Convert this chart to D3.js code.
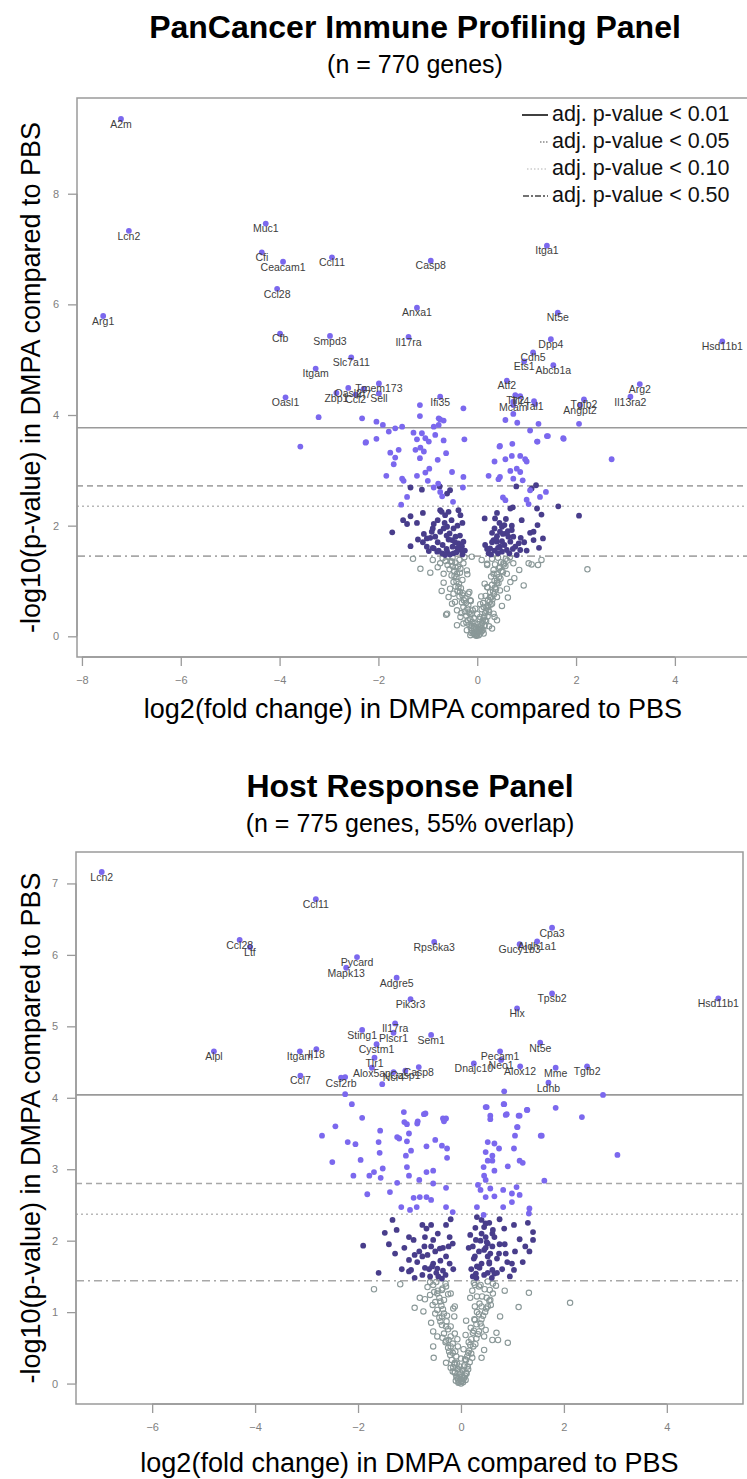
<!DOCTYPE html>
<html>
<head>
<meta charset="utf-8">
<script src="https://cdn.jsdelivr.net/npm/d3@7"></script>
<style>
  body { margin: 0; background: #fff; }
  svg { display: block; font-family: "Liberation Sans", Arial, sans-serif; }
</style>
</head>
<body>
<svg id="chart" width="747" height="1479"></svg>
<script>
// ---------- top panel (PanCancer Immune Profiling) ----------
const topXTicks = [-8, -6, -4, -2, 0, 2, 4];
const topYTicks = [0, 2, 4, 6, 8];
const topCutoffs = [3.77, 2.72, 2.35, 1.45]; // adj p 0.01, 0.05, 0.10, 0.50

// labelled genes: [name, log2FC, -log10 p]
const topGenes = [
  ["A2m", -7.21, 9.35], ["Lcn2", -7.05, 7.33], ["Arg1", -7.57, 5.79],
  ["Muc1", -4.28, 7.46], ["Cfi", -4.36, 6.94], ["Ceacam1", -3.93, 6.77],
  ["Ccl11", -2.94, 6.85], ["Ccl28", -4.05, 6.28], ["Cfb", -3.99, 5.47],
  ["Smpd3", -2.98, 5.43], ["Slc7a11", -2.55, 5.04], ["Itgam", -3.27, 4.84],
  ["Oasl1", -3.88, 4.32], ["Tmem173", -1.99, 4.57], ["Zbp1", -2.85, 4.40],
  ["Oasl2", -2.61, 4.49], ["Irf7", -2.30, 4.47], ["Ccl2", -2.46, 4.37],
  ["Sell", -1.99, 4.39], ["Anxa1", -1.22, 5.94], ["Casp8", -0.94, 6.79],
  ["Il17ra", -1.39, 5.41], ["Ifi35", -0.75, 4.33], ["Itga1", 1.41, 7.06],
  ["Nt5e", 1.63, 5.85], ["Dpp4", 1.49, 5.37], ["Cdh5", 1.13, 5.13],
  ["Ets1", 0.95, 4.97], ["Abcb1a", 1.54, 4.90], ["Atf2", 0.60, 4.62],
  ["Tlr2", 0.77, 4.36], ["Tlr4", 0.87, 4.34], ["Mcam", 0.73, 4.24],
  ["Tal1", 1.15, 4.25], ["Tgfb2", 2.16, 4.28], ["Angpt2", 2.08, 4.18],
  ["Arg2", 3.29, 4.56], ["Il13ra2", 3.10, 4.33], ["Hsd11b1", 4.96, 5.33]
];

const topSig = [
  [-3.21,3.96],[-2.33,3.94],[-2.04,3.88],[-1.91,3.82],[-1.79,3.70],[-1.66,3.76],[-1.52,3.79],
  [-1.16,4.18],[-1.16,3.98],[-0.88,3.79],[-0.75,3.92],[-0.68,3.90],[-0.78,3.82],[-0.28,4.12],
  [0.57,3.91],[0.81,3.86],[1.07,3.72],[1.24,3.84],[0.73,4.02],[1.17,4.20],[-3.58,3.43],
  [-2.26,3.50],[-2.04,3.57],[-1.29,3.68],[-1.22,3.56],[-1.12,3.67],[-1.05,3.58],[-0.98,3.52],
  [-0.85,3.64],[-0.68,3.54],[-0.26,3.56],[-1.76,3.32],[-1.59,3.37],[-1.66,3.23],[-1.69,3.11],
  [-1.25,3.37],[-1.15,3.41],[-1.08,3.34],[-1.16,3.22],[-0.80,3.19],[-0.63,3.31],[0.46,3.44],
  [0.71,3.48],[1.22,3.52],[1.41,3.62],[0.35,3.16],[0.57,3.20],[0.70,3.26],[0.87,3.26],
  [0.97,3.20],[1.00,3.16],[0.43,2.84],[0.46,2.88],[0.67,2.99],[0.80,3.03],[0.87,2.97],
  [0.92,2.82],[0.73,2.85],[0.23,2.90],[-1.84,2.90],[-1.52,2.85],[-1.49,2.81],[-1.22,2.90],
  [-1.05,2.96],[-0.97,3.03],[-1.00,2.81],[-0.88,2.69],[-0.79,2.76],[-0.75,2.61],[-0.51,2.97],
  [-0.28,2.88],[-1.42,2.52],[-1.54,2.38],[-0.71,2.53],[-0.49,2.43],[-0.29,2.69],[0.52,2.51],
  [0.57,2.46],[1.00,2.47],[1.04,2.39],[1.07,2.64],[1.39,2.61],[1.27,2.52],[2.72,3.20],
  [1.75,3.57],[1.43,3.62],[2.06,3.84],[-0.78,3.94],[1.74,3.58],[0.45,3.43],[0.73,4.18],
  [1.21,3.52],[-2.25,3.51]
];

const topMid = [
  [-1.35,2.69],[-1.12,2.65],[-0.76,2.71],[-0.55,2.64],[-0.61,2.58],[0.79,2.71],[1.19,2.73],
  [1.10,2.67],[0.72,2.33],[0.67,2.31],[1.21,2.31],[1.64,2.35],[-1.35,2.17],[-1.22,2.05],
  [-1.42,2.03],[-1.10,2.23],[-0.75,2.28],[-0.88,2.03],[-0.38,2.28],[-0.34,2.19],[0.15,2.13],
  [0.40,2.23],[0.36,2.13],[-1.72,1.88],[-1.35,1.63],[-1.08,1.85],[-1.02,1.77],[-0.92,1.89],
  [-0.85,1.80],[-0.75,1.89],[-0.68,1.95],[-0.61,1.98],[-0.56,1.86],[-0.51,1.74],[-0.44,1.80],
  [-0.38,1.68],[-0.31,1.63],[-0.28,1.71],[-1.02,1.62],[-0.88,1.59],[-0.81,1.53],[-0.71,1.50],
  [-0.61,1.53],[-0.48,1.50],[-0.98,1.54],[0.16,1.65],[0.33,1.74],[0.40,1.81],[0.46,1.89],
  [0.50,1.98],[0.55,2.01],[0.59,1.86],[0.63,1.80],[0.67,1.71],[0.73,1.80],[0.46,1.62],
  [0.50,1.53],[0.60,1.56],[0.77,1.62],[0.84,1.68],[0.87,1.56],[0.80,1.47],[1.07,1.87],
  [1.14,1.89],[1.22,2.01],[1.33,1.77],[1.14,1.74],[0.40,1.71],[0.30,1.87],[0.23,1.50],
  [0.26,1.59],[-0.65,2.19],[-0.58,2.25],[2.06,2.18],[-0.55,1.48],[-0.42,1.52],[-0.33,1.56],
  [-0.62,1.58],[-0.50,1.62],[-0.25,1.55],[-0.70,1.65],[-0.45,1.70],[-0.58,1.75],[-0.80,1.70],
  [-0.35,1.82],[-0.90,1.95],[-0.66,2.05],[-0.52,2.10],[-1.20,1.75],[0.28,1.48],[0.35,1.55],
  [0.42,1.60],[0.55,1.65],[0.38,1.75],[0.50,1.72],[0.62,1.90],[0.70,2.00],[0.45,2.05],
  [0.95,1.70],[1.00,1.55],[0.90,2.10],[0.30,1.70],[0.58,2.12],[-0.72,2.25],
  [-0.90,1.60],[-0.78,1.55],[-0.65,1.47],[-0.40,1.60],[-0.30,1.48],[-1.10,1.70],[-0.95,1.78],
  [-0.62,1.82],[-0.48,1.95],[-0.40,2.00],[-0.80,2.10],[0.35,1.95],[0.42,1.50],[0.65,1.50],
  [0.72,1.58],[0.88,1.78],[0.52,1.85],[0.70,1.92],[1.25,1.60],[0.20,1.58],[-1.50,2.10],
  [1.30,2.20],[-0.30,2.05]
];

const topNs = [
  [-1.15,1.22],[-0.75,1.32],[-0.68,1.13],[-0.68,0.97],[-0.51,1.35],[-0.44,1.25],[-0.41,1.13],
  [-0.34,1.22],[-0.28,1.32],[-0.21,1.19],[-0.11,1.44],[0.09,1.38],[0.20,1.29],[0.33,1.13],
  [0.40,1.01],[0.46,1.25],[0.53,1.32],[0.60,1.13],[0.67,0.98],[0.73,1.32],[1.04,1.32],
  [1.23,1.29],[0.94,0.92],[0.60,0.86],[0.46,0.83],[0.40,0.71],[0.30,0.59],[0.23,0.47],
  [0.16,0.29],[0.09,0.14],[-0.01,0.02],[-0.07,0.05],[-0.21,0.11],[-0.28,0.23],[-0.34,0.35],
  [-0.41,0.47],[-0.51,0.59],[-0.58,0.71],[-0.55,0.86],[-0.48,0.77],[-0.61,0.41],[-0.41,0.20],
  [-0.18,0.77],[-0.14,0.65],[-0.11,0.41],[-0.04,0.23],[0.06,0.35],[0.13,0.53],[0.20,0.89],
  [0.26,0.71],[0.33,0.41],[0.40,0.29],[0.30,0.14],[0.03,0.11],[-0.14,0.02],[2.23,1.21],
  [-0.63,0.39],[-0.02,0.01],[0.03,0.02],[-0.05,0.03],[0.06,0.05],[-0.08,0.06],[0.01,0.07],
  [0.09,0.09],[-0.11,0.10],[-0.03,0.11],[0.04,0.13],[0.12,0.12],[-0.13,0.15],[0.07,0.16],
  [-0.06,0.18],[0.15,0.19],[-0.16,0.21],[0.02,0.22],[0.10,0.24],[-0.10,0.26],[0.18,0.27],
  [-0.19,0.29],[0.05,0.31],[-0.07,0.33],[0.13,0.34],[0.21,0.36],[-0.22,0.37],[-0.14,0.40],
  [0.16,0.42],[0.24,0.44],[-0.25,0.45],[-0.09,0.47],[0.09,0.49],[0.19,0.52],[-0.28,0.53],
  [-0.18,0.56],[0.27,0.57],[0.12,0.60],[-0.31,0.61],[-0.13,0.64],[0.22,0.66],[0.31,0.67],
  [-0.24,0.69],[-0.36,0.72],[0.17,0.73],[0.34,0.76],[-0.29,0.78],[0.26,0.80],[-0.40,0.82],
  [0.38,0.85],[-0.33,0.87],[0.21,0.88],[-0.44,0.90],[0.30,0.93],[-0.37,0.95],[0.43,0.96],
  [-0.48,0.98],[0.35,1.00],[-0.30,1.02],[0.47,1.04],[-0.42,1.07],[0.28,1.08],[-0.52,1.10],
  [0.40,1.12],[-0.35,1.15],[0.52,1.16],[-0.47,1.18],[0.33,1.20],[-0.56,1.21],[0.44,1.23],
  [-0.39,1.26],[0.57,1.27],[-0.60,1.29],[0.36,1.30],[-0.44,1.33],[0.48,1.34],[-0.64,1.36],
  [0.61,1.37],[-0.36,1.38],[0.30,1.40],[-0.50,1.42],[0.66,1.43],[-0.70,1.41],[0.42,1.42],
  [-0.26,1.43],[0.20,1.31],[-0.20,1.12],[0.15,0.95],[-0.16,0.80],[0.08,0.72],[0.00,0.40],
  [-0.04,0.50],[0.06,0.58],
  [0.00,0.04],[-0.04,0.08],[0.05,0.10],[-0.07,0.14],[0.08,0.20],[-0.11,0.19],[0.11,0.28],
  [-0.14,0.31],[0.14,0.36],[-0.17,0.43],[0.18,0.46],[-0.20,0.50],[0.22,0.55],[-0.23,0.60],
  [0.25,0.62],[-0.27,0.65],[0.28,0.70],[-0.30,0.74],[0.32,0.81],[-0.35,0.80],[0.36,0.88],
  [-0.38,0.89],[0.40,0.97],[-0.42,0.99],[0.44,1.07],[-0.46,1.09],[0.49,1.18],[-0.50,1.27],
  [0.54,1.30],[-0.54,1.35],[0.58,1.40],[-0.60,1.44],[-0.80,1.25],[0.85,1.20],[-0.90,1.38],
  [0.75,1.05],[-0.72,0.82],[0.62,0.70],[-0.45,0.62],[0.50,0.55],[-0.32,0.42],[0.35,0.35],
  [-0.22,0.25],[0.24,0.18],[-0.12,0.06],[0.13,0.05],[-0.95,1.15],[1.10,1.30],[-1.30,1.40],
  [1.30,1.38]
];

// ---------- bottom panel (Host Response) ----------
const botXTicks = [-6, -4, -2, 0, 2, 4];
const botYTicks = [0, 1, 2, 3, 4, 5, 6, 7];
const botCutoffs = [4.04, 2.80, 2.37, 1.44];

const botGenes = [
  ["Lcn2", -6.98, 7.16], ["Ccl11", -2.82, 6.78], ["Ccl28", -4.30, 6.21],
  ["Ltf", -4.10, 6.11], ["Pycard", -2.02, 5.97], ["Mapk13", -2.23, 5.82],
  ["Adgre5", -1.25, 5.68], ["Pik3r3", -0.98, 5.38], ["Rps6ka3", -0.52, 6.18],
  ["Gucy1b3", 1.14, 6.15], ["Aldh1a1", 1.48, 6.19], ["Cpa3", 1.77, 6.38],
  ["Tpsb2", 1.77, 5.46], ["Hlx", 1.09, 5.25], ["Hsd11b1", 5.00, 5.39],
  ["Il17ra", -1.28, 5.04], ["Sting1", -1.92, 4.95], ["Plscr1", -1.31, 4.91],
  ["Sem1", -0.58, 4.88], ["Cystm1", -1.64, 4.75], ["Tlr1", -1.68, 4.56],
  ["Alpl", -4.80, 4.65], ["Itgam", -3.13, 4.65], ["Il18", -2.81, 4.68],
  ["Ccl7", -3.12, 4.31], ["Csf2rb", -2.33, 4.28], ["Alox5ap", -1.73, 4.42],
  ["Casp8", -0.82, 4.43], ["Casp1", -1.08, 4.38], ["Ncf4", -1.31, 4.36],
  ["Nt5e", 1.54, 4.77], ["Pecam1", 0.76, 4.65], ["Neo1", 0.78, 4.53],
  ["Dnajc10", 0.25, 4.48], ["Alox12", 1.15, 4.44], ["Mme", 1.84, 4.42],
  ["Tgfb2", 2.45, 4.44], ["Ldhb", 1.70, 4.21]
];

const botSig = [
  [-2.25,4.29],[-2.25,4.05],[-1.53,4.19],[0.84,4.09],[2.76,4.04],[-2.12,3.91],[-1.92,3.72],
  [-2.44,3.60],[-2.70,3.47],[-2.20,3.38],[-2.05,3.35],[-1.57,3.54],[-1.60,3.38],[-1.24,3.45],
  [-1.11,3.80],[-0.69,3.78],[0.50,3.87],[0.57,3.75],[0.83,3.91],[0.87,3.76],[1.12,3.75],
  [1.28,3.83],[1.84,3.86],[2.35,3.73],[1.09,3.59],[1.05,3.47],[1.55,3.47],[-0.35,3.71],
  [-0.85,3.64],[-1.05,3.63],[-2.50,3.10],[-1.95,3.13],[-2.09,2.91],[-1.78,2.91],[-1.69,2.96],
  [-1.52,3.01],[-1.56,2.88],[-1.82,2.65],[-1.38,2.68],[-1.24,2.81],[-1.58,3.23],[-1.10,3.66],
  [-1.01,3.50],[-1.05,3.39],[-1.20,3.43],[-0.97,3.26],[-1.07,3.19],[-1.05,3.03],[-1.01,2.91],
  [-0.84,3.67],[-0.72,3.77],[-0.67,3.32],[-0.50,3.41],[-0.37,3.33],[-0.29,3.71],[-0.33,3.67],
  [-0.27,3.29],[-0.27,3.16],[-0.67,2.96],[-0.54,2.98],[-0.81,2.85],[-0.54,2.80],[-0.29,2.74],
  [-0.92,2.60],[-0.80,2.61],[-0.67,2.61],[-0.58,2.57],[-1.16,2.47],[-0.99,2.43],[-0.86,2.47],
  [-0.29,2.47],[-0.16,2.40],[0.48,3.87],[0.57,3.70],[0.84,3.91],[0.89,3.77],[1.14,3.75],
  [1.29,3.83],[1.10,3.59],[1.57,3.47],[0.52,3.38],[0.65,3.36],[0.48,3.24],[0.61,3.19],
  [0.74,3.29],[0.52,3.12],[0.61,3.12],[1.03,3.29],[1.14,3.12],[1.20,3.09],[0.91,3.04],
  [0.44,3.03],[0.45,2.91],[0.48,2.85],[0.65,2.98],[3.04,3.20],[1.62,2.84],[0.33,2.78],
  [0.38,2.71],[0.57,2.73],[0.65,2.62],[0.82,2.71],[0.99,2.66],[1.14,2.64],[1.08,2.75],
  [0.99,2.54],[0.31,2.47],[0.44,2.36],[0.82,2.47],[1.33,2.45],[1.32,2.38],[0.48,2.61]
];

const botMid = [
  [-1.90,1.93],[-1.48,2.11],[-1.33,2.29],[-1.25,2.15],[-1.28,1.82],[-1.01,2.05],[-0.92,2.01],
  [-1.01,1.73],[-1.01,1.57],[-0.97,1.59],[-0.81,1.85],[-0.75,1.78],[-0.71,1.92],[-0.75,2.22],
  [-0.67,2.17],[-0.58,2.22],[-0.54,2.01],[-0.58,1.92],[-0.50,1.85],[-0.41,1.89],[-0.54,1.68],
  [-0.56,1.64],[-0.46,1.61],[-0.44,1.50],[-0.37,1.47],[-0.29,2.22],[-0.22,2.05],[-0.24,1.92],
  [-0.29,1.78],[-0.22,1.68],[-0.16,1.96],[0.18,2.08],[0.23,1.92],[0.29,2.01],[0.27,1.78],
  [0.31,1.64],[0.29,1.54],[0.23,1.50],[0.40,2.29],[0.45,2.19],[0.40,2.10],[0.48,2.05],
  [0.52,1.96],[0.45,1.87],[0.52,1.78],[0.40,1.68],[0.61,2.10],[0.65,2.05],[0.61,1.92],
  [0.57,1.82],[0.55,1.68],[0.65,1.54],[0.61,1.59],[0.74,1.82],[0.84,2.17],[0.87,1.82],
  [0.99,1.68],[1.03,1.59],[1.03,2.22],[1.14,2.02],[1.25,1.92],[1.33,1.85],[1.40,2.01],
  [1.40,2.12],[0.48,2.24],[0.31,2.33],[-0.60,1.50],[-0.48,1.55],[-0.70,1.62],[-0.35,1.58],
  [-0.85,1.70],[-0.65,1.80],[-0.40,1.72],[-1.10,1.90],[0.30,1.48],[0.45,1.52],[0.36,1.62],
  [0.55,1.70],[0.70,1.75],[0.48,1.90],[0.85,1.95],[0.62,2.15],[1.20,1.70],[0.80,1.60],
  [-0.90,1.48],[-0.75,1.52],[-0.62,1.60],[-0.30,1.52],[-0.35,1.90],[-0.45,2.10],[-0.70,2.05],
  [-0.90,1.80],[-1.15,1.60],[0.20,1.60],[0.25,1.75],[0.35,1.85],[0.52,1.55],[0.60,1.48],
  [0.70,1.55],[0.75,1.95],[0.90,1.70],[1.05,1.85],[0.38,2.00],[0.55,2.25],[0.28,2.18],
  [0.75,2.30],[-1.40,1.95],[-0.15,1.60],[0.15,1.90],[1.30,2.25],[-0.20,2.30],[0.95,1.50],
  [-1.60,1.55],[0.50,1.98]
];

const botNs = [
  [-1.69,1.32],[-1.18,1.39],[-0.90,1.06],[-0.73,1.01],[-0.70,1.18],[-0.54,1.38],[-0.46,1.26],
  [-0.37,1.31],[-0.29,1.36],[-0.33,1.17],[-0.20,1.26],[-0.58,0.85],[-0.54,0.73],[-0.46,0.66],
  [-0.54,0.52],[-0.53,0.36],[-0.37,0.94],[-0.29,0.80],[-0.24,0.61],[-0.20,0.52],[-0.16,0.43],
  [-0.12,1.08],[-0.13,0.94],[-0.12,0.29],[-0.07,0.20],[-0.03,0.10],[0.01,0.03],[0.06,0.24],
  [0.10,0.33],[0.14,0.43],[0.18,0.54],[0.23,0.71],[0.27,0.89],[0.27,1.08],[0.31,1.22],
  [0.27,1.38],[0.35,1.36],[0.40,0.80],[0.45,0.66],[0.48,0.75],[0.45,0.47],[0.40,0.36],
  [0.52,1.08],[0.57,1.17],[0.61,0.61],[0.69,0.71],[0.72,0.61],[0.91,0.57],[0.76,0.94],
  [1.12,1.07],[1.32,1.27],[2.12,1.13],[-0.29,0.29],[-0.20,0.22],[-0.12,0.15],[-0.07,0.08],
  [-0.01,0.06],[0.06,0.08],[0.10,0.15],[-0.03,0.24],[-0.16,0.17],[-0.03,0.02],[0.02,0.04],
  [-0.06,0.06],[0.05,0.07],[-0.09,0.10],[0.08,0.11],[-0.02,0.13],[0.11,0.14],[-0.12,0.16],
  [0.03,0.18],[-0.05,0.20],[0.14,0.20],[-0.15,0.23],[0.07,0.26],[-0.08,0.28],[0.17,0.30],
  [-0.18,0.33],[0.00,0.35],[0.12,0.38],[-0.21,0.40],[0.20,0.42],[-0.11,0.45],[0.05,0.48],
  [-0.25,0.50],[0.24,0.52],[-0.16,0.56],[0.15,0.58],[-0.29,0.60],[0.30,0.63],[-0.20,0.66],
  [0.09,0.68],[-0.33,0.70],[0.35,0.73],[-0.25,0.76],[0.19,0.78],[-0.37,0.82],[0.38,0.84],
  [-0.28,0.87],[0.26,0.90],[-0.42,0.92],[0.43,0.95],[-0.33,0.98],[0.31,1.00],[-0.46,1.03],
  [0.49,1.05],[-0.38,1.09],[0.36,1.12],[-0.50,1.14],[0.55,1.16],[-0.42,1.20],[0.41,1.22],
  [-0.60,1.24],[0.62,1.26],[-0.45,1.30],[0.46,1.32],[-0.65,1.35],[0.68,1.37],[-0.30,1.40],
  [0.25,1.41],[-0.48,1.42],[0.52,1.43],[0.18,1.20],[-0.15,1.05],[0.10,0.88],[-0.07,0.62],
  [0.00,0.00],[0.04,0.02],[-0.05,0.01],[0.09,0.05],[-0.10,0.04],[0.02,0.09],[-0.02,0.16],
  [0.13,0.24],[-0.13,0.27],[0.08,0.34],[-0.09,0.38],[0.22,0.36],[-0.23,0.45],[0.16,0.46],
  [-0.06,0.52],[0.28,0.55],[-0.30,0.58],[0.20,0.62],[-0.12,0.70],[0.33,0.69],[-0.36,0.64],
  [0.25,0.74],[-0.20,0.80],[0.30,0.83],[-0.40,0.87],[0.40,0.90],[-0.27,0.95],[0.35,0.97],
  [-0.50,0.98],[0.47,1.00],[-0.35,1.04],[0.40,1.08],[-0.55,1.10],[0.58,1.10],[-0.40,1.15],
  [0.50,1.20],[-0.52,1.28],[0.56,1.31],[-0.36,1.33],[0.38,1.38],[-0.60,1.42],[0.62,1.40],
  [-0.25,1.25],[0.22,1.30],[-0.80,1.20],[0.85,1.30]
];

const legendLabels = ["adj. p-value < 0.01", "adj. p-value < 0.05", "adj. p-value < 0.10", "adj. p-value < 0.50"];

// ---------- drawing ----------
const svg = d3.select("#chart");
const lightPurple = "#7b68ee", darkPurple = "#483d8b", nsGrey = "#8a9898";
const cutStyles = [
  { dash: null, color: "#9a9a9a" },
  { dash: "6,4", color: "#a8a8a8" },
  { dash: "2,3", color: "#b8b8b8" },
  { dash: "8,4,2,4", color: "#a8a8a8" }
];

function drawPanel(p) {
  const x = d3.scaleLinear().domain(p.xDomain).range([p.left, p.right]);
  const y = d3.scaleLinear().domain(p.yDomain).range([p.bottom, p.top]);
  const g = svg.append("g");

  // titles
  g.append("text").attr("x", p.titleX).attr("y", p.titleY)
    .attr("text-anchor", "middle").attr("font-weight", "bold").attr("font-size", 32)
    .text(p.title);
  g.append("text").attr("x", p.titleX).attr("y", p.titleY + 35)
    .attr("text-anchor", "middle").attr("font-size", 25)
    .text(p.subtitle);

  // cutoff lines
  g.selectAll(".cut").data(p.cutoffs).join("line")
    .attr("x1", p.left).attr("x2", p.right)
    .attr("y1", d => y(d)).attr("y2", d => y(d))
    .attr("stroke", (d, i) => cutStyles[i].color)
    .attr("stroke-width", 1.6)
    .attr("stroke-dasharray", (d, i) => cutStyles[i].dash);

  // points
  g.selectAll(".ns").data(p.ns).join("circle")
    .attr("cx", d => x(d[0])).attr("cy", d => y(d[1])).attr("r", 2.7)
    .attr("fill", "none").attr("stroke", nsGrey).attr("stroke-width", 1.1);
  g.selectAll(".mid").data(p.mid).join("circle")
    .attr("cx", d => x(d[0])).attr("cy", d => y(d[1])).attr("r", 2.9)
    .attr("fill", darkPurple);
  g.selectAll(".sig").data(p.sig).join("circle")
    .attr("cx", d => x(d[0])).attr("cy", d => y(d[1])).attr("r", 2.9)
    .attr("fill", lightPurple);
  g.selectAll(".gene").data(p.genes).join("circle")
    .attr("cx", d => x(d[1])).attr("cy", d => y(d[2])).attr("r", 2.9)
    .attr("fill", lightPurple);
  g.selectAll(".glabel").data(p.genes).join("text")
    .attr("x", d => x(d[1])).attr("y", d => y(d[2]) + 6)
    .attr("text-anchor", "middle").attr("dominant-baseline", "middle")
    .attr("font-size", 10.5).attr("fill", "#3d3d3d")
    .text(d => d[0]);

  // box
  g.append("rect").attr("x", p.left).attr("y", p.top)
    .attr("width", p.right - p.left).attr("height", p.bottom - p.top)
    .attr("fill", "none").attr("stroke", "#9a9a9a").attr("stroke-width", 1.5);

  // axes
  const xa = g.append("g").attr("transform", `translate(0,${p.bottom})`)
    .call(d3.axisBottom(x).tickValues(p.xTicks).tickSize(9).tickPadding(10).tickFormat(d3.format("d")));
  const ya = g.append("g").attr("transform", `translate(${p.left},0)`)
    .call(d3.axisLeft(y).tickValues(p.yTicks).tickSize(9).tickPadding(9).tickFormat(d3.format("d")));
  [xa, ya].forEach(a => {
    a.select(".domain").remove();
    a.selectAll("line").attr("stroke", "#9a9a9a").attr("stroke-width", 1.3);
    a.selectAll("text").attr("font-size", 11).attr("fill", "#808080")
      .attr("font-family", "Liberation Sans, Arial, sans-serif");
  });
  xa.append("line").attr("x1", x(p.xTicks[0])).attr("x2", x(p.xTicks[p.xTicks.length - 1]))
    .attr("stroke", "#9a9a9a").attr("stroke-width", 1.3);
  ya.append("line").attr("y1", y(p.yTicks[0])).attr("y2", y(p.yTicks[p.yTicks.length - 1]))
    .attr("stroke", "#9a9a9a").attr("stroke-width", 1.3);

  // axis titles
  g.append("text").attr("x", (p.left + p.right) / 2).attr("y", p.xTitleY)
    .attr("text-anchor", "middle").attr("font-size", 27)
    .text("log2(fold change) in DMPA compared to PBS");
  g.append("text")
    .attr("transform", `translate(40,${(p.top + p.bottom) / 2}) rotate(-90)`)
    .attr("text-anchor", "middle").attr("font-size", 27)
    .text("-log10(p-value) in DMPA compared to PBS");

  return g;
}

const topG = drawPanel({
  title: "PanCancer Immune Profiling Panel", subtitle: "(n = 770 genes)",
  titleX: 415, titleY: 38,
  left: 77, right: 749, top: 98, bottom: 657,
  xDomain: [-8.1, 5.5], yDomain: [-0.374, 9.73],
  xTicks: topXTicks, yTicks: topYTicks, cutoffs: topCutoffs,
  genes: topGenes, sig: topSig, mid: topMid, ns: topNs, xTitleY: 718
});

drawPanel({
  title: "Host Response Panel", subtitle: "(n = 775 genes, 55% overlap)",
  titleX: 410, titleY: 797,
  left: 76, right: 743, top: 852, bottom: 1404,
  xDomain: [-7.48, 5.48], yDomain: [-0.286, 7.44],
  xTicks: botXTicks, yTicks: botYTicks, cutoffs: botCutoffs,
  genes: botGenes, sig: botSig, mid: botMid, ns: botNs, xTitleY: 1472
});

// legend (top panel only)
const legendRows = [
  { dash: null, color: "#000", x1: 522 },
  { dash: "1.5,1.5", color: "#888", x1: 540 },
  { dash: "1.5,2", color: "#ccc", x1: 527 },
  { dash: "6,2,2,2", color: "#444", x1: 523 }
];
const leg = topG.append("g");
legendLabels.forEach((lab, i) => {
  const yy = 115 + i * 27;
  leg.append("line").attr("x1", legendRows[i].x1).attr("x2", 548).attr("y1", yy).attr("y2", yy)
    .attr("stroke", legendRows[i].color).attr("stroke-width", 1.5)
    .attr("stroke-dasharray", legendRows[i].dash);
  leg.append("text").attr("x", 552).attr("y", yy).attr("dominant-baseline", "middle")
    .attr("font-size", 21.5).attr("fill", "#111").text(lab);
});
</script>
</body>
</html>
